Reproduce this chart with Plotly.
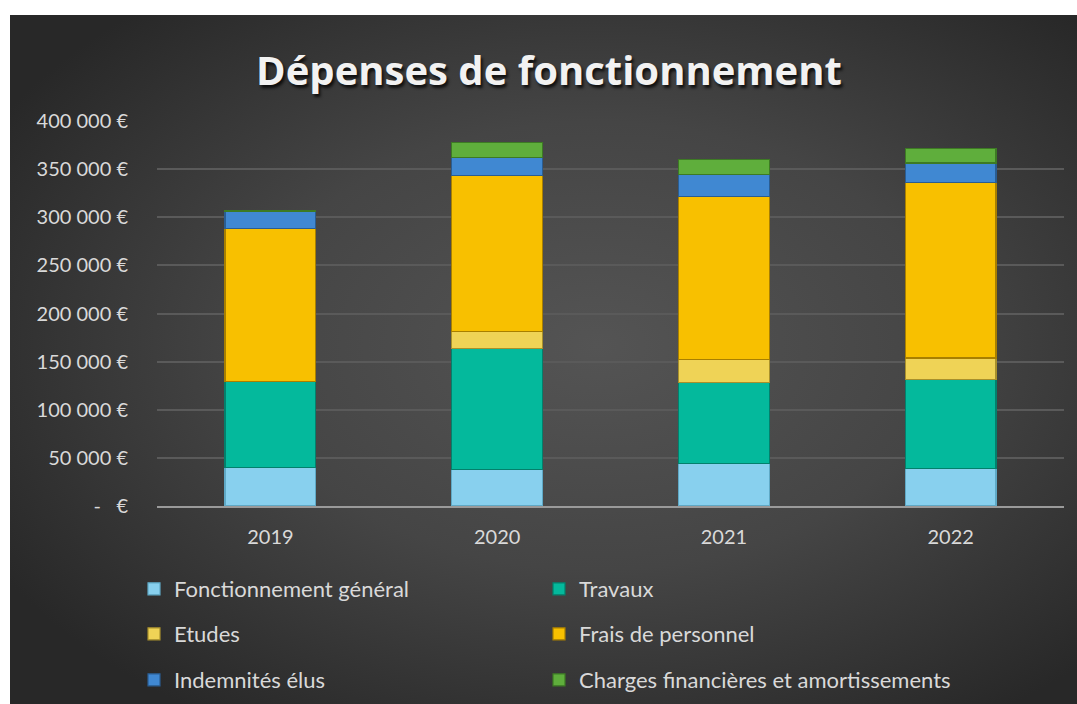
import base64
import plotly.graph_objects as go

years = ["2019", "2020", "2021", "2022"]
fonctionnement = [39800, 38100, 44000, 39200]
travaux = [89400, 125700, 84200, 92500]
etudes = [0, 17200, 24300, 22100]
frais_personnel = [159400, 162500, 169400, 182500]
indemnites = [17000, 18300, 22900, 20000]
charges = [1000, 16000, 15600, 15300]

series_names = ["Fonctionnement général", "Travaux", "Etudes", "Frais de personnel",
                "Indemnités élus", "Charges financières et amortissements"]
series_values = [fonctionnement, travaux, etudes, frais_personnel, indemnites, charges]
series_colors = ["#88d0ee", "#04b99c", "#efd356", "#f8c000", "#4088d2", "#5fae3c"]
series_lines = ["#5fa9c6", "#03806c", "#a8902c", "#a87f00", "#2a5d92", "#3d7a24"]
series_legend = ["legend", "legend2", "legend3", "legend4", "legend5", "legend6"]

tick_vals = [0, 50000, 100000, 150000, 200000, 250000, 300000, 350000, 400000]
tick_text = ["-   €", "50 000 €", "100 000 €", "150 000 €", "200 000 €",
             "250 000 €", "300 000 €", "350 000 €", "400 000 €"]

W, H = 1077, 704
L, R, T, B = 157, 13, 121, 198
pw, ph = W - L - R, H - T - B

def px_x(p):
    return (p - L) / pw

def px_y(p):
    return (H - B - p) / ph

fig = go.Figure()
for name, vals, col, lc, lg in zip(series_names, series_values, series_colors, series_lines, series_legend):
    fig.add_trace(go.Bar(
        x=years, y=vals, name=name, legend=lg,
        marker=dict(color=col, line=dict(color=lc, width=1.2)),
    ))

svg = '''<svg xmlns="http://www.w3.org/2000/svg" width="1067" height="689" viewBox="0 0 1067 689" preserveAspectRatio="none">
<defs><radialGradient id="g" cx="0.55" cy="0.48" r="0.65" gradientUnits="objectBoundingBox">
<stop offset="0" stop-color="#545454"/><stop offset="0.5" stop-color="#454545"/><stop offset="1" stop-color="#282828"/>
</radialGradient></defs><rect width="1067" height="689" fill="url(#g)"/></svg>'''
src = "data:image/svg+xml;base64," + base64.b64encode(svg.encode()).decode()

fig.add_layout_image(dict(
    source=src, xref="paper", yref="paper",
    x=px_x(10), y=px_y(15), sizex=px_x(W) - px_x(10), sizey=px_y(15) - px_y(H),
    xanchor="left", yanchor="top", sizing="stretch", layer="below",
))

legend_common = dict(
    orientation="h", xanchor="left", yanchor="middle", traceorder="normal",
    font=dict(family="Lato", size=22, color="#d9d9d9"),
    bgcolor="rgba(0,0,0,0)",
    itemclick=False, itemdoubleclick=False,
)
col_x = [134, 539]
row_y = [589, 634, 680]
legend_layout = {}
for i, lg in enumerate(series_legend):
    legend_layout[lg] = dict(legend_common, x=px_x(col_x[i % 2]), y=px_y(row_y[i // 2]))

fig.update_layout(
    width=W, height=H,
    margin=dict(l=L, r=R, t=T, b=B, autoexpand=False),
    paper_bgcolor="white", plot_bgcolor="rgba(0,0,0,0)",
    barmode="stack", bargap=0.6,
    title=dict(
        text="Dépenses de fonctionnement", x=549 / W, xref="container",
        xanchor="center", y=1 - 71 / H, yref="container", yanchor="middle",
        font=dict(family="Open Sans", size=40, color="#f2f2f2", weight="bold",
                  shadow="2px 3px 3px rgba(0,0,0,0.75)"),
    ),
    xaxis=dict(
        showgrid=False, showline=True, linecolor="#9a9a9a", linewidth=2,
        tickfont=dict(family="Lato", size=20, color="#d9d9d9"), ticks="",
        ticklabelstandoff=12,
    ),
    yaxis=dict(
        range=[0, 400000], tickvals=tick_vals, ticktext=tick_text,
        showgrid=True, gridcolor="#5a5a5a", gridwidth=1.5, zeroline=False,
        tickfont=dict(family="Lato", size=20, color="#d9d9d9"), ticks="",
        ticklabelstandoff=28,
    ),
    showlegend=True,
    **legend_layout,
)

fig.write_html("out.html", config={"displayModeBar": False},
               post_script="document.body.style.margin='0';")
